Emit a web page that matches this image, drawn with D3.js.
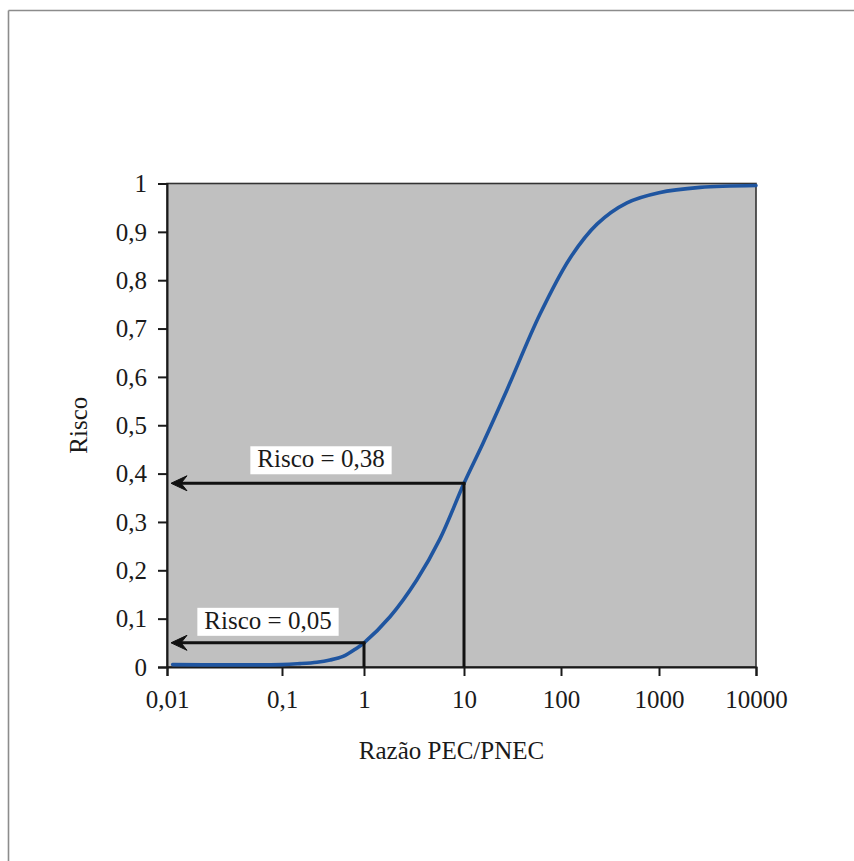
<!DOCTYPE html>
<html>
<head>
<meta charset="utf-8">
<script src="https://cdn.jsdelivr.net/npm/d3@7"></script>
<style>
  html, body { margin: 0; padding: 0; background: #fff; }
  svg { display: block; }
  text { font-family: "Liberation Serif", "Times New Roman", serif; fill: #1a1a1a; }
</style>
</head>
<body>
<svg id="chart" width="854" height="861"></svg>
<script>
// Risk curve: probability of effect vs. PEC/PNEC ratio
const ratio = [0.0112, 0.1, 0.166, 0.267, 0.385, 0.555, 0.815, 1, 1.82, 3.37, 5.75, 10, 15.7, 27.7, 60.8, 124, 233, 471, 1000, 2650, 10000];
const risk  = [0.005, 0.005, 0.007, 0.010, 0.0145, 0.022, 0.039, 0.05, 0.104, 0.18, 0.265, 0.38, 0.463, 0.573, 0.730, 0.846, 0.916, 0.960, 0.981, 0.992, 0.996];

// Axis ticks
const xTicks = [0.01, 0.1, 1, 10, 100, 1000, 10000];
const xTickLabels = ["0,01", "0,1", "1", "10", "100", "1000", "10000"];
const yTicks = [0, 0.1, 0.2, 0.3, 0.4, 0.5, 0.6, 0.7, 0.8, 0.9, 1];
const yTickLabels = ["0", "0,1", "0,2", "0,3", "0,4", "0,5", "0,6", "0,7", "0,8", "0,9", "1"];

// Highlighted readings
const marks = [
  { ratio: 1,  risk: 0.05, label: "Risco = 0,05" },
  { ratio: 10, risk: 0.38, label: "Risco = 0,38" }
];

const xTitle = "Razão PEC/PNEC";
const yTitle = "Risco";

// ---- layout ----
const plot = { left: 167, top: 183.5, bottom: 667 };
const decadeWidths = [115, 82, 100, 97, 98, 97];
const xRange = [plot.left];
decadeWidths.forEach(w => xRange.push(xRange[xRange.length - 1] + w));
plot.right = xRange[xRange.length - 1];

const x = d3.scaleLog().domain(xTicks).range(xRange);
const y = d3.scaleLinear().domain([0, 1]).range([plot.bottom, plot.top]);

const svg = d3.select("#chart");
const fontSize = 25;

// outer frame (top and left edges)
svg.append("line").attr("x1", 8.5).attr("x2", 854).attr("y1", 10.5).attr("y2", 10.5)
  .attr("stroke", "#8c8c8c").attr("stroke-width", 1.6);
svg.append("line").attr("x1", 8.5).attr("x2", 8.5).attr("y1", 10.5).attr("y2", 861)
  .attr("stroke", "#8c8c8c").attr("stroke-width", 1.6);

// plot area background
svg.append("rect")
  .attr("x", plot.left).attr("y", plot.top)
  .attr("width", plot.right - plot.left).attr("height", plot.bottom - plot.top)
  .attr("fill", "#c0c0c0")
  .attr("stroke", "#333").attr("stroke-width", 1.6);

// axes
const xAxis = d3.axisBottom(x).tickValues(xTicks).tickSize(9).tickPadding(0)
  .tickFormat((d, i) => xTickLabels[i]);
const gx = svg.append("g").attr("transform", `translate(0,${plot.bottom})`).call(xAxis);
gx.select(".domain").attr("stroke", "#1a1a1a").attr("stroke-width", 2);
gx.selectAll(".tick line").attr("stroke", "#1a1a1a").attr("stroke-width", 2);
gx.selectAll(".tick text")
  .attr("y", 41).attr("dy", null)
  .style("font-family", '"Liberation Serif", serif').style("font-size", fontSize + "px").attr("fill", "#1a1a1a");

const yAxis = d3.axisLeft(y).tickValues(yTicks).tickSize(9).tickPadding(11)
  .tickFormat((d, i) => yTickLabels[i]);
const gy = svg.append("g").attr("transform", `translate(${plot.left},0)`).call(yAxis);
gy.select(".domain").attr("stroke", "#1a1a1a").attr("stroke-width", 2);
gy.selectAll(".tick line").attr("stroke", "#1a1a1a").attr("stroke-width", 2);
gy.selectAll(".tick text")
  .attr("dy", "0.33em")
  .style("font-family", '"Liberation Serif", serif').style("font-size", fontSize + "px").attr("fill", "#1a1a1a");

// axis titles
svg.append("text")
  .attr("x", (plot.left + plot.right) / 2 - 10).attr("y", 759)
  .attr("text-anchor", "middle").style("font-size", fontSize + "px")
  .text(xTitle);
svg.append("text")
  .attr("transform", `translate(87,${(plot.top + plot.bottom) / 2}) rotate(-90)`)
  .attr("text-anchor", "middle").style("font-size", fontSize + "px")
  .text(yTitle);

// risk curve
const pts = ratio.map((r, i) => [x(r), y(risk[i])]);
svg.append("path")
  .attr("d", d3.line().curve(d3.curveCatmullRom.alpha(0.5))(pts))
  .attr("fill", "none").attr("stroke", "#1f55a0").attr("stroke-width", 3.6)
  .attr("stroke-linecap", "round");

// reading lines with arrows toward the y axis
const arrowTipX = plot.left + 4;
const labelCenters = [268, 321];
const labelGaps = [7, 9];
marks.forEach((m, i) => {
  const px = x(m.ratio), py = y(m.risk);
  const g = svg.append("g");
  g.append("line").attr("x1", px).attr("x2", px).attr("y1", py).attr("y2", plot.bottom)
    .attr("stroke", "#111").attr("stroke-width", 3);
  g.append("line").attr("x1", px + 1.5).attr("x2", arrowTipX + 6).attr("y1", py).attr("y2", py)
    .attr("stroke", "#111").attr("stroke-width", 3);
  // arrowhead
  g.append("path")
    .attr("d", `M${arrowTipX},${py} L${arrowTipX + 16},${py - 7.5} L${arrowTipX + 10},${py} L${arrowTipX + 16},${py + 7.5} Z`)
    .attr("fill", "#111").attr("stroke", "#111").attr("stroke-width", 1).attr("stroke-linejoin", "miter");

  // label box
  const cx = labelCenters[i];
  const boxBottom = py - labelGaps[i];
  const t = g.append("text")
    .attr("x", cx).attr("y", boxBottom - 7)
    .attr("text-anchor", "middle").style("font-size", fontSize + "px")
    .text(m.label);
  const bb = t.node().getBBox();
  g.insert("rect", "text")
    .attr("x", bb.x - 7).attr("y", boxBottom - 28)
    .attr("width", bb.width + 14).attr("height", 28)
    .attr("fill", "#fff");
});
</script>
</body>
</html>
